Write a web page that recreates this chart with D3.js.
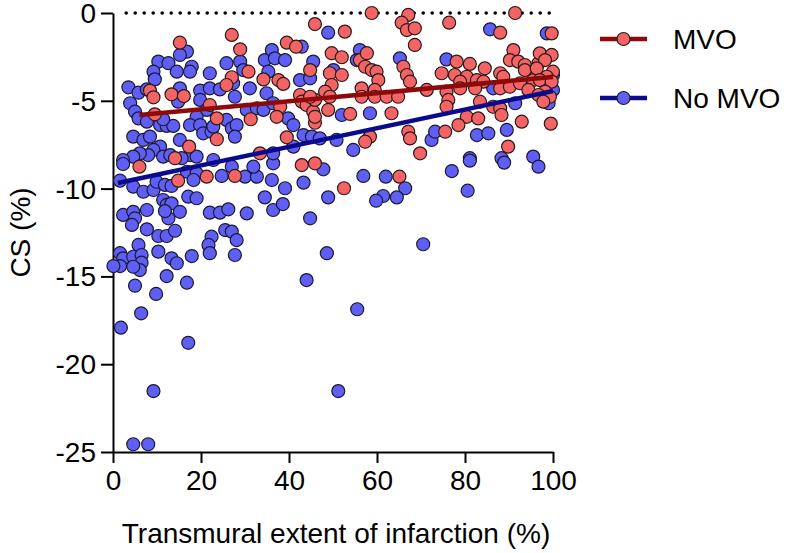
<!DOCTYPE html>
<html><head><meta charset="utf-8">
<script src="https://cdn.jsdelivr.net/npm/d3@7"></script>
<style>body{margin:0;background:#fff}svg{display:block}text{font-family:"Liberation Sans",Arial,sans-serif}</style>
</head><body>
<script>
const mvoData = [[27.0,-1.25],[28.9,-2.07],[15.2,-1.69],[39.5,-1.69],[41.6,-1.92],[45.9,-0.63],[44.8,-3.25],[30.8,-3.34],[27.0,-3.66],[25.8,-4.10],[34.2,-3.78],[37.6,-3.82],[38.7,-4.04],[8.4,-4.42],[9.2,-4.80],[13.3,-4.63],[16.1,-4.73],[22.0,-5.24],[42.5,-4.67],[42.9,-5.05],[44.0,-5.24],[38.0,-5.34],[37.2,-5.91],[9.5,-5.77],[23.6,-6.00],[31.3,-6.05],[45.5,-5.62],[45.9,-6.25],[23.6,-7.19],[17.3,-7.61],[39.5,-7.08],[33.4,-7.99],[14.1,-8.27],
[58.8,0],[67.1,-0.11],[65.6,-0.55],[66.8,-0.97],[68.6,-0.87],[68.6,-1.82],[76.4,-0.55],[91.4,0],[88.0,-1.12],[52.7,-1.06],[49.7,-2.29],[52.0,-2.52],[56.1,-2.68],[57.7,-2.29],[57.3,-3.06],[58.8,-3.25],[59.9,-3.34],[60.3,-3.82],[59.5,-4.38],[56.5,-4.29],[66.0,-3.06],[66.8,-3.53],[67.5,-3.91],[49.3,-3.43],[52.0,-3.53],[49.7,-4.10],[48.2,-4.48],[45.9,-4.95],[49.3,-4.77],[44.8,-4.77],[48.9,-5.52],[45.9,-5.91],[53.9,-5.75],[56.5,-4.77],[59.5,-4.77],[62.2,-4.77],[64.8,-4.77],[63.3,-5.71],[71.3,-4.38],[78.1,-2.77],[81.1,-2.90],[84.5,-3.15],[74.7,-3.43],[77.7,-3.53],[80.4,-3.63],[78.9,-3.91],[82.7,-3.82],[84.2,-3.91],[75.8,-4.48],[76.2,-4.95],[75.8,-5.34],[78.9,-4.29],[82.3,-4.29],[83.4,-5.05],[80.4,-5.91],[83.0,-6.00],[78.5,-6.38],[75.5,-6.76],[86.4,-5.34],[88.0,-5.43],[88.3,-5.81],[91.0,-2.11],[90.2,-2.68],[92.1,-2.77],[93.6,-2.96],[96.7,-2.86],[95.9,-3.34],[93.6,-3.25],[88.0,-3.43],[88.7,-3.63],[88.0,-4.29],[90.2,-4.20],[92.5,-4.00],[95.5,-3.82],[94.4,-4.38],[92.9,-6.19],[89.8,-7.61],[67.1,-6.76],[67.5,-7.14],[58.4,-7.04],[57.3,-7.33],[69.8,-7.99],[6.0,-8.75],[14.8,-9.55],[21.3,-9.32],[27.7,-9.28],[42.9,-8.66],[45.9,-8.56],[65.1,-9.32],[52.5,-9.98],
[99.7,-1.16],[97.0,-2.30],[99.7,-2.39],[98.2,-2.68],[96.3,-3.15],[100,-3.34],[98.6,-3.63],[97.0,-3.82],[99.7,-3.91],[98.2,-4.48],[96.7,-4.67],[99.3,-4.77],[97.8,-5.05],[99.5,-6.3]];

const noMvoData = [[16.8,-2.20],[15.2,-2.39],[10.3,-2.77],[12.6,-2.86],[9.2,-3.34],[14.5,-3.34],[17.9,-3.06],[17.5,-3.34],[9.5,-3.78],[3.5,-4.23],[5.8,-4.54],[7.7,-4.35],[3.9,-5.14],[5.0,-5.62],[5.8,-6.00],[7.7,-6.19],[10.7,-6.38],[12.2,-6.43],[13.7,-6.43],[11.4,-6.05],[15.2,-4.29],[14.8,-5.05],[19.8,-4.42],[22.0,-4.29],[24.3,-4.35],[22.0,-3.43],[25.8,-2.86],[28.9,-2.77],[29.6,-3.25],[27.7,-4.77],[31.1,-4.29],[27.3,-4.00],[19.8,-4.95],[21.3,-5.52],[19.0,-5.91],[17.5,-6.38],[19.8,-6.38],[20.5,-6.85],[22.4,-6.76],[22.8,-6.47],[25.8,-6.09],[27.0,-6.57],[28.1,-6.38],[27.7,-7.04],[30.4,-5.52],[32.7,-5.43],[34.2,-5.52],[34.5,-2.68],[36.1,-2.11],[36.8,-2.58],[39.1,-2.68],[35.3,-3.34],[34.9,-4.57],[36.4,-5.14],[39.8,-6.00],[41.0,-6.38],[42.5,-3.82],[44.8,-3.72],[43.3,-6.95],[45.2,-7.04],[4.6,-7.04],[6.9,-7.23],[8.4,-7.04],[10.7,-7.61],[9.2,-7.80],[8.0,-8.09],[6.1,-7.99],[4.6,-8.18],[2.3,-8.37],[15.2,-7.23],[17.5,-8.09],[19.0,-8.18],[22.8,-8.37],[11.4,-8.18],
[48.9,-1.12],[85.7,-0.93],[45.5,-2.77],[56.1,-2.11],[55.4,-2.68],[65.2,-2.58],[75.8,-2.64],[42.9,-1.92],[50.1,-3.25],[52.0,-5.81],[58.4,-5.71],[86.4,-4.29],[91.4,-5.14],[47.0,-7.14],[50.8,-7.23],[54.6,-7.80],[72.4,-7.23],[73.2,-6.76],[82.7,-6.95],[85.3,-6.85],[89.5,-6.66],[81.1,-8.27],[88.3,-8.27],[95.5,-8.18],
[2.3,-8.60],[1.6,-9.55],[4.6,-9.89],[6.9,-10.18],[9.2,-10.08],[9.9,-9.61],[11.8,-9.79],[13.3,-9.85],[13.0,-8.09],[15.6,-8.27],[16.8,-9.04],[19.0,-9.13],[18.3,-9.51],[24.7,-9.28],[27.0,-8.75],[30.0,-9.32],[32.7,-9.32],[31.9,-8.75],[36.1,-9.51],[36.4,-8.56],[41.0,-7.61],[36.4,-7.99],[11.4,-10.65],[12.2,-10.93],[13.3,-10.84],[15.2,-11.32],[12.6,-11.69],[11.8,-11.28],[17.1,-10.46],[19.0,-10.55],[2.3,-11.50],[4.6,-11.32],[5.0,-11.69],[4.3,-12.07],[7.7,-11.22],[7.7,-12.32],[10.3,-12.70],[12.2,-12.70],[14.1,-12.40],[22.0,-11.37],[24.3,-11.37],[26.2,-11.18],[30.4,-11.41],[25.5,-12.36],[27.0,-12.45],[28.1,-12.93],[22.4,-12.74],[21.7,-13.21],[22.0,-13.68],[27.7,-13.78],[34.5,-10.50],[36.4,-11.22],[38.6,-10.88],[39.1,-9.98],[43.3,-9.66],[44.8,-11.69],[5.8,-13.21],[10.3,-13.59],[1.6,-13.68],[2.3,-13.97],[1.6,-14.41],[0.1,-14.41],[4.6,-13.88],[6.5,-13.78],[6.5,-14.22],[6.1,-14.64],[4.6,-14.45],[13.3,-13.97],[14.5,-14.25],[17.9,-13.84],[12.2,-14.98],[16.8,-15.36],[5.0,-15.53],[9.8,-16.00],[44.0,-15.21],
[47.8,-8.90],[56.9,-9.28],[62.0,-9.32],[66.4,-9.98],[64.5,-10.50],[61.4,-10.42],[59.8,-10.69],[48.9,-10.50],[77.0,-9.00],[81.1,-8.41],[88.9,-8.52],[96.7,-8.75],[80.6,-10.12],[70.5,-13.17],[48.6,-13.68],
[6.4,-17.10],[1.8,-17.92],[17.1,-18.78],[55.5,-16.87],[9.2,-21.53],[51.2,-21.53],[4.6,-24.56],[8.0,-24.56],
[98.6,-1.16],[100,-3.53],[100,-4.38],[99.0,-5.14]];

const fitMVO = [[6.0,-5.81],[100,-3.64]];
const fitNoMVO = [[1.1,-9.68],[100,-4.44]];
const xTicks = [0,20,40,60,80,100];
const yTicks = [0,-5,-10,-15,-20,-25];
const legendLabels = ["MVO","No MVO"];
const xTitle = "Transmural extent of infarction (%)";
const yTitle = "CS (%)";

const W = 788, H = 553;
const svg = d3.select("body").append("svg").attr("width", W).attr("height", H);
const x = d3.scaleLinear().domain([0,100]).range([113,553]);
const y = d3.scaleLinear().domain([-25,0]).range([452,13]);

const redFill = "#f56464", blueFill = "#5f5ff5";
const redLine = "#8e0a0a", blueLine = "#0a0a8c";
const FS = 28;

svg.append("line")
  .attr("x1", x(3)).attr("x2", x(100)).attr("y1", y(0)).attr("y2", y(0))
  .attr("stroke", "#000").attr("stroke-width", 3.6)
  .attr("stroke-linecap", "round").attr("stroke-dasharray", "0 9");

const yAxis = d3.axisLeft(y).tickValues(yTicks).tickFormat(d => String(d))
  .tickSize(12).tickSizeOuter(0).tickPadding(5);
const xAxis = d3.axisBottom(x).tickValues(xTicks).tickFormat(d => String(d))
  .tickSize(11).tickSizeOuter(0).tickPadding(7);

const gy = svg.append("g").attr("transform", `translate(${x(0)},0)`).call(yAxis);
const gx = svg.append("g").attr("transform", `translate(0,${y(-25)})`).call(xAxis);
[gx, gy].forEach(g => {
  g.selectAll("path,line").attr("stroke", "#000").attr("stroke-width", 2);
  g.selectAll("text").attr("font-size", FS).attr("fill", "#000")
   .style("font-family", '"Liberation Sans", Arial, sans-serif');
});
gy.selectAll("text").attr("dy", "0.34em");

const r = 6.5;
svg.append("g").selectAll("circle").data(noMvoData).join("circle")
  .attr("cx", d => x(d[0])).attr("cy", d => y(d[1])).attr("r", r)
  .attr("fill", blueFill).attr("stroke", "#1a1a33").attr("stroke-width", 1.2);
svg.append("g").selectAll("circle").data(mvoData).join("circle")
  .attr("cx", d => x(d[0])).attr("cy", d => y(d[1])).attr("r", r)
  .attr("fill", redFill).attr("stroke", "#2a1a1a").attr("stroke-width", 1.2);

const line = d3.line().x(d => x(d[0])).y(d => y(d[1]));
svg.append("path").attr("d", line(fitMVO)).attr("stroke", redLine).attr("stroke-width", 4.5).attr("fill", "none");
svg.append("path").attr("d", line(fitNoMVO)).attr("stroke", blueLine).attr("stroke-width", 4.5).attr("fill", "none");

svg.append("text").attr("x", 336).attr("y", 543).attr("text-anchor", "middle")
  .attr("font-size", FS).text(xTitle);
svg.append("text").attr("transform", `translate(30,${(y(0)+y(-25))/2}) rotate(-90)`)
  .attr("text-anchor", "middle").attr("font-size", FS).text(yTitle);

const leg = [
  {label: legendLabels[0], fill: redFill, stroke: redLine, cy: 39},
  {label: legendLabels[1], fill: blueFill, stroke: blueLine, cy: 98}
];
leg.forEach(l => {
  svg.append("line").attr("x1", 600).attr("x2", 647).attr("y1", l.cy).attr("y2", l.cy)
    .attr("stroke", l.stroke).attr("stroke-width", 4.5);
  svg.append("circle").attr("cx", 623.5).attr("cy", l.cy).attr("r", r)
    .attr("fill", l.fill).attr("stroke", "#222").attr("stroke-width", 1.2);
  svg.append("text").attr("x", 673).attr("y", l.cy + 10).attr("font-size", FS).text(l.label);
});
</script>
</body></html>
